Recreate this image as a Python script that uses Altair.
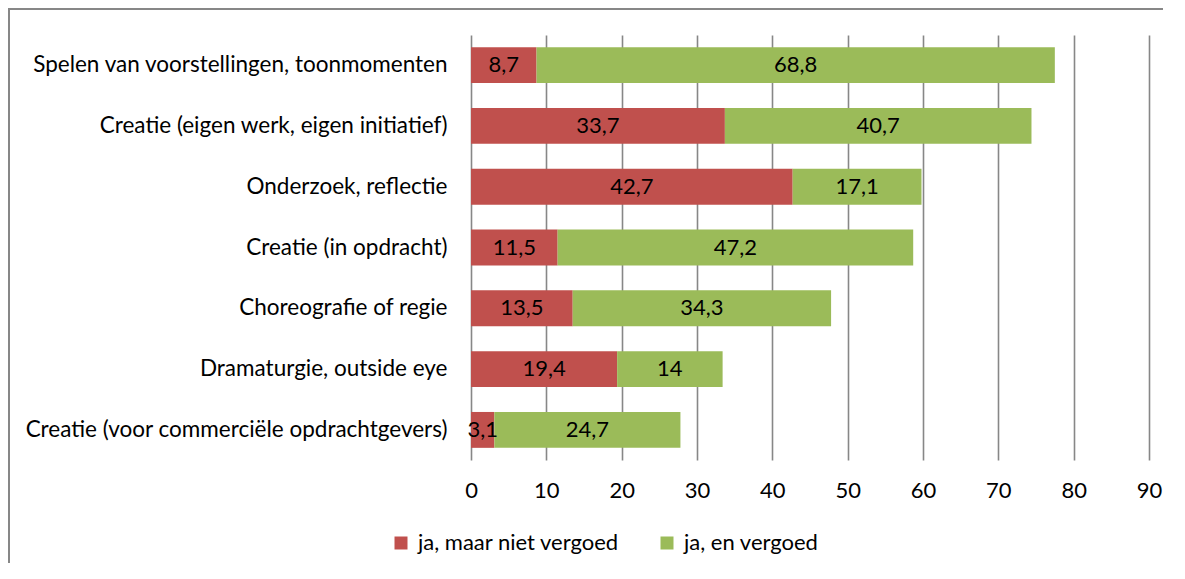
import altair as alt
import pandas as pd

categories = [
    "Spelen van voorstellingen, toonmomenten",
    "Creatie (eigen werk, eigen initiatief)",
    "Onderzoek, reflectie",
    "Creatie (in opdracht)",
    "Choreografie of regie",
    "Dramaturgie, outside eye",
    "Creatie (voor commerciële opdrachtgevers)",
]
niet_vergoed = [8.7, 33.7, 42.7, 11.5, 13.5, 19.4, 3.1]
vergoed = [68.8, 40.7, 17.1, 47.2, 34.3, 14.0, 24.7]
series = ["ja, maar niet vergoed", "ja, en vergoed"]
colors = ["#C0504D", "#9BBB59"]
x_ticks = [0, 10, 20, 30, 40, 50, 60, 70, 80, 90]

rows = []
for c, a, b in zip(categories, niet_vergoed, vergoed):
    rows.append({"cat": c, "series": series[0], "order": 0, "value": a})
    rows.append({"cat": c, "series": series[1], "order": 1, "value": b})
df = pd.DataFrame(rows)

FONT = "Lato"
FS = 22

base = alt.Chart(df).transform_stack(
    stack="value", groupby=["cat"], sort=[alt.SortField("order")], as_=["x0", "x1"]
).transform_calculate(
    mid="(datum.x0 + datum.x1) / 2",
    label="replace(toString(datum.value), '.', ',')",
)

y_enc = alt.Y(
    "cat:N",
    sort=categories,
    title=None,
    scale=alt.Scale(paddingInner=0.41, paddingOuter=0.2),
    axis=alt.Axis(
        domain=False, ticks=False, labelFontSize=22.5, labelFont=FONT,
        labelColor="#000000", labelPadding=24, labelLimit=600,
    ),
)

bars = base.mark_bar().encode(
    x=alt.X(
        "x0:Q",
        title=None,
        scale=alt.Scale(domain=[0, 90], nice=False),
        axis=alt.Axis(
            values=x_ticks, domain=False, ticks=False, grid=True,
            gridColor="#878787", gridWidth=1.6, labelFontSize=FS, labelFont=FONT,
            labelColor="#000000", labelPadding=20, labelFlush=False,
        ),
    ),
    x2="x1:Q",
    y=y_enc,
    color=alt.Color(
        "series:N",
        scale=alt.Scale(domain=series, range=colors),
        legend=alt.Legend(
            title=None, orient="none", direction="horizontal",
            legendX=-81, legendY=497, symbolType="square", symbolSize=169,
            symbolStrokeWidth=0, labelFontSize=FS, labelFont=FONT,
            labelColor="#000000", columnPadding=36, labelOffset=6,
            labelLimit=400,
        ),
    ),
)

texts = base.mark_text(fontSize=FS, font=FONT, color="#000000").encode(
    x="mid:Q",
    y=alt.Y("cat:N", sort=categories),
    text="label:N",
)

frame_df = pd.DataFrame({"k": [0]})
top_line = alt.Chart(frame_df).mark_rule(stroke="#878787", strokeWidth=2).encode(
    x=alt.value(-463), x2=alt.value(692), y=alt.value(-26)
)
left_line = alt.Chart(frame_df).mark_rule(stroke="#878787", strokeWidth=2).encode(
    x=alt.value(-462), y=alt.value(-26), y2=alt.value(528)
)

chart = alt.layer(bars, texts, top_line, left_line).properties(
    width=678, height=425,
    autosize=alt.AutoSizeParams(type="none"),
    padding={"left": 463, "top": 27, "right": 16, "bottom": 103},
).configure_view(stroke=None)

chart.save("out.html", embed_options={"renderer": "svg", "actions": False})
